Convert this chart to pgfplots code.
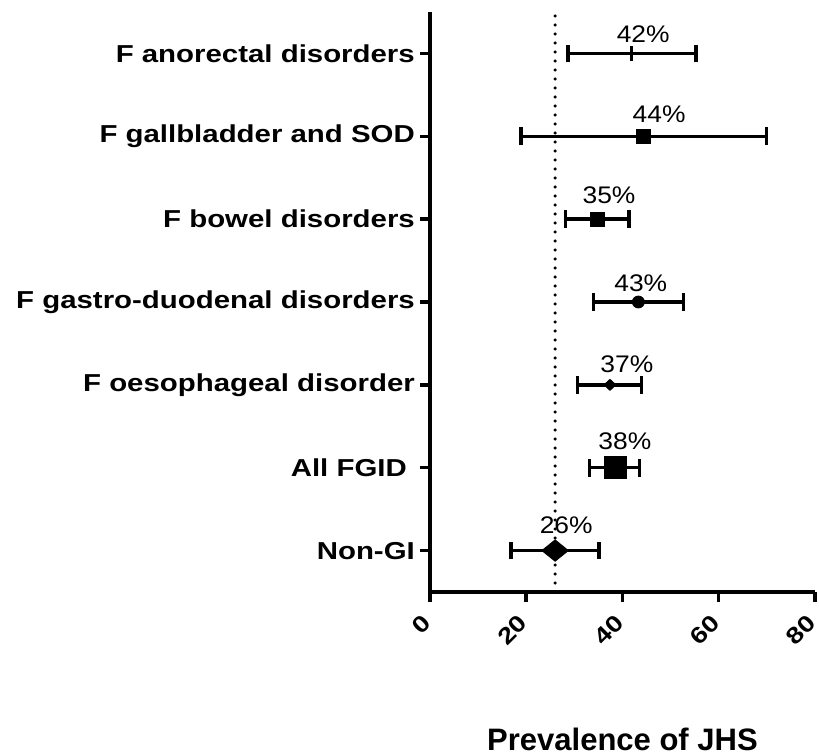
\documentclass[border=0pt]{standalone}
\usepackage{pgfplots}
\pgfplotsset{compat=1.18}
\usepackage{fontspec}
\setmainfont{Liberation Sans}
\newfontfamily\ylabfont[FakeStretch=1.2]{Liberation Sans}
\newfontfamily\pctfont[FakeStretch=1.1]{Liberation Sans}
\begin{document}
\begin{tikzpicture}
\begin{axis}[
  scale only axis,
  width=385bp, height=580bp,
  xmin=0, xmax=80, ymin=0.5, ymax=7.5,
  axis x line*=bottom, axis y line*=left,
  axis line style={line width=4bp, black},
  clip=false,
  xtick={0,20,40,60,80},
  ytick={1,2,3,4,5,6,7},
  yticklabels={Non-GI, All FGID\hspace*{8bp}, F oesophageal disorder, F gastro-duodenal disorders, F bowel disorders, F gallbladder and SOD, F anorectal disorders},
  tick align=outside,
  major tick length=10bp,
  tick style={line width=3.5bp, black},
  /pgf/number format/assume math mode=true,
  yticklabel style={font=\ylabfont\bfseries\fontsize{24.5bp}{28bp}\selectfont, inner sep=0pt, xshift=-5bp},
  xticklabel style={font=\ylabfont\bfseries\fontsize{23bp}{28bp}\selectfont, rotate=45, anchor=east, inner sep=0pt, xshift=-14.1bp, yshift=-9.9bp},
  xlabel={Prevalence of JHS},
  xlabel style={font=\bfseries\fontsize{31bp}{36bp}\selectfont, at={(axis description cs:0.5,0)}, anchor=base, yshift=-158bp},
  every axis plot/.append style={black, line width=3.5bp},
  error bars/error bar style={line width=3.5bp, black},
  error bars/error mark=|,
  error bars/error mark options={mark size=8.8bp, line width=3.5bp, black},
]
% reference dotted line
\addplot[line width=3.5bp, dash pattern=on 0pt off 9bp, line cap=round, no marks] coordinates {(26,0.5) (26,7.5)};
% F anorectal disorders
\addplot[only marks, mark=|, mark size=7.3bp, mark options={line width=3.5bp},
  error bars/.cd, x dir=both, x explicit] coordinates {(41.9,7) += (13.4,0) -= (13.2,0)};
% F gallbladder and SOD
\addplot[only marks, mark=square*, mark size=7.2bp, mark options={line width=0.8bp},
  error bars/.cd, x dir=both, x explicit] coordinates {(44.4,6) += (25.5,0) -= (25.5,0)};
% F bowel disorders
\addplot[only marks, mark=square*, mark size=7.0bp, mark options={line width=0.8bp},
  error bars/.cd, x dir=both, x explicit] coordinates {(34.7,5) += (6.7,0) -= (6.5,0)};
% F gastro-duodenal disorders
\addplot[only marks, mark=*, mark size=6bp, mark options={line width=0.8bp},
  error bars/.cd, x dir=both, x explicit] coordinates {(43.3,4) += (9.4,0) -= (9.3,0)};
% F oesophageal disorder
\addplot[only marks, mark=diamond*, mark size=5.5bp, mark options={line width=0.8bp, xscale=1.45},
  error bars/.cd, x dir=both, x explicit] coordinates {(37.4,3) += (6.5,0) -= (6.8,0)};
% All FGID
\addplot[only marks, mark=square*, mark size=11bp, mark options={line width=0.8bp},
  error bars/.cd, x dir=both, x explicit] coordinates {(38.5,2) += (5.0,0) -= (5.4,0)};
% Non-GI
\addplot[only marks, mark=diamond*, mark size=10.7bp, mark options={line width=0.8bp, xscale=1.65},
  error bars/.cd, x dir=both, x explicit] coordinates {(26.0,1) += (9.1,0) -= (9.2,0)};
% percentage labels
\begin{scope}[every node/.style={font=\pctfont\fontsize{24bp}{28bp}\selectfont, anchor=base, inner sep=0pt}]
\node at (axis cs:44.3,7.126) {42\%};
\node at (axis cs:47.6,6.172) {44\%};
\node at (axis cs:37.2,5.183) {35\%};
\node at (axis cs:43.8,4.121) {43\%};
\node at (axis cs:40.9,3.155) {37\%};
\node at (axis cs:40.5,2.214) {38\%};
\node at (axis cs:28.3,1.212) {26\%};
\end{scope}
\end{axis}
\pgfresetboundingbox
\path[use as bounding box] (current axis.south west) ++(-430bp,-163bp) rectangle ++(819bp,755bp);
\end{tikzpicture}
\end{document}
